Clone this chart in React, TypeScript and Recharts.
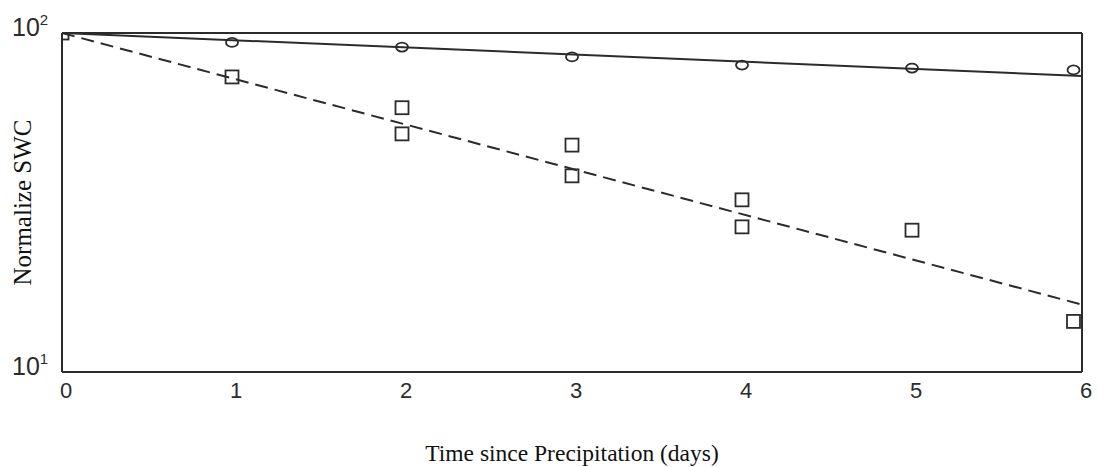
import { ComposedChart, Scatter, XAxis, YAxis, ReferenceLine, Label } from 'recharts';

// days since precipitation / normalized soil water content
const dayTicks = [0, 1, 2, 3, 4, 5, 6];
const swcTicks = [10, 100];

const circleDays = [1, 2, 3, 4, 5, 5.95];
const circleSwc = [93.8, 90.9, 85.0, 80.4, 78.8, 77.8];

const squareDays = [0, 1, 2, 2, 3, 3, 4, 4, 5, 5.95];
const squareSwc = [100, 74.2, 60.2, 50.4, 46.7, 37.9, 32.2, 26.8, 26.2, 14.1];

const fitDays = [0, 6];
const solidFit = [100, 74.7];
const dashedFit = [100, 15.8];

const INK = '#2b2b2b';

const zip = (xs: number[], ys: number[]) => xs.map((d, i) => ({ day: d, swc: ys[i] }));

function CircleMark(props: any) {
  const { cx, cy } = props;
  return <ellipse cx={cx} cy={cy} rx={6} ry={4.5} fill="none" stroke={INK} strokeWidth={1.8} />;
}

function SquareMark(props: any) {
  const { cx, cy } = props;
  return <rect x={cx - 6.5} y={cy - 6.5} width={13} height={13} fill="none" stroke={INK} strokeWidth={1.8} />;
}

function NoMark() {
  return <g />;
}

function XTick({ x, payload }: any) {
  return (
    <text x={x + 4} y={398} textAnchor="middle" fontSize={22} fontFamily="Liberation Sans" fill={INK}>
      {payload.value}
    </text>
  );
}

function YTick({ y, payload }: any) {
  const exp = Math.round(Math.log10(payload.value));
  return (
    <text x={12} y={y + 3} fontSize={25} fontFamily="Liberation Sans" fill={INK}>
      10
      <tspan dy={-11} fontSize={15}>{exp}</tspan>
    </text>
  );
}

export default function App() {
  return (
    <div style={{ position: 'absolute', left: 0, top: 0, width: 1099, height: 467, background: '#fff' }}>
      <ComposedChart width={1099} height={467} margin={{ top: 33, right: 17, bottom: 0, left: 0 }}>
        <XAxis
          type="number"
          dataKey="day"
          domain={[0, 6]}
          ticks={dayTicks}
          height={95}
          tickLine={false}
          axisLine={{ stroke: INK, strokeWidth: 2 }}
          tick={<XTick />}
          allowDataOverflow
        >
          <Label
            value="Time since Precipitation (days)"
            position="insideBottom"
            offset={6}
            fontSize={23.5}
            fontFamily="Liberation Serif"
            fill="#111"
          />
        </XAxis>
        <YAxis
          type="number"
          dataKey="swc"
          scale="log"
          domain={[10, 100]}
          ticks={swcTicks}
          width={62}
          tickLine={false}
          axisLine={{ stroke: INK, strokeWidth: 2 }}
          tick={<YTick />}
          allowDataOverflow
        >
          <Label
            value="Normalize SWC"
            angle={-90}
            position="insideLeft"
            offset={22}
            textAnchor="middle"
            fontSize={25}
            fontFamily="Liberation Serif"
            fill="#111"
          />
        </YAxis>
        <ReferenceLine y={100} stroke={INK} strokeWidth={2} />
        <ReferenceLine x={6} stroke={INK} strokeWidth={2} />
        <Scatter
          data={zip(fitDays, solidFit)}
          line={{ stroke: INK, strokeWidth: 2 }}
          shape={<NoMark />}
          isAnimationActive={false}
        />
        <Scatter
          data={zip(fitDays, dashedFit)}
          line={{ stroke: INK, strokeWidth: 2, strokeDasharray: '13 7' }}
          shape={<NoMark />}
          isAnimationActive={false}
        />
        <Scatter data={zip(circleDays, circleSwc)} shape={<CircleMark />} isAnimationActive={false} />
        <Scatter data={zip(squareDays, squareSwc)} shape={<SquareMark />} isAnimationActive={false} />
      </ComposedChart>
    </div>
  );
}
